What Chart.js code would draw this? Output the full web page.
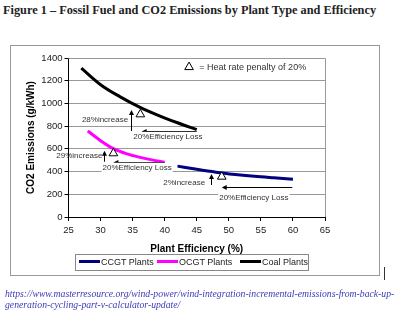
<!DOCTYPE html>
<html><head><meta charset="utf-8">
<script src="https://cdn.jsdelivr.net/npm/chart.js@4.4.1/dist/chart.umd.min.js"></script>
<style>
html,body{margin:0;padding:0;background:#fff;}
body{width:400px;height:321px;position:relative;overflow:hidden;}
#title{position:absolute;left:3px;top:3px;font:bold 12.3px "Liberation Serif",serif;color:#222;white-space:nowrap;}
#box{position:absolute;left:10px;top:45px;width:368px;height:229px;border:1px solid #999;}
#box canvas{position:absolute;left:0;top:0;}
#legend{position:absolute;left:75px;top:254px;width:232px;height:15px;border:1px solid #888;background:#fff;font:9px "Liberation Sans",Arial,sans-serif;color:#222;}
.li{position:absolute;top:0;height:15px;line-height:15px;white-space:nowrap;}
.li span.sw{display:inline-block;width:21px;height:3px;vertical-align:middle;margin-right:1px;position:relative;top:-1px;}
#url{position:absolute;left:5px;top:288px;font:italic 9.7px "Liberation Serif",serif;color:#3a3ab8;line-height:11px;white-space:nowrap;}
#stray{position:absolute;left:384px;top:267px;width:1px;height:13px;background:#333;}
</style></head>
<body>
<div id="title">Figure 1 – Fossil Fuel and CO2 Emissions by Plant Type and Efficiency</div>
<div id="box"><canvas id="c" width="368" height="229"></canvas></div>
<div id="legend"></div>
<div id="url">https://www.masterresource.org/wind-power/wind-integration-incremental-emissions-from-back-up-<br>generation-cycling-part-v-calculator-update/</div>
<div id="stray"></div>
<script>
// ---- data ----
const seriesNames = ['CCGT Plants', 'OCGT Plants', 'Coal Plants'];
const ccgtX = [42, 45, 48, 51, 54, 57, 60];
const ccgtY = [448, 420, 395, 375, 358, 345, 333];
const ocgtX = [28, 30, 32, 34, 36, 38, 40];
const ocgtY = [757, 672, 602, 558, 527, 503, 483];
const coalX = [27, 30, 33, 36, 39, 42, 45];
const coalY = [1310, 1165, 1060, 970, 895, 830, 770];
const triX = [43.8, 36.2, 32.0, 48.9];
const triY = [1320, 904, 561, 355];
const upArrowX = [34.8, 30.6, 47.2];
const upArrowFrom = [757, 487, 282];
const upArrowTo = [942, 584, 379];
const leftArrowY = [757, 481, 266];
const leftArrowFrom = [45, 40, 59.9];
const leftArrowTo = [36.4, 32, 48.9];
const increaseLabels = ['28%increase', '29%increase', '2%increase'];
const increaseX = [34.3, 30.3, 46.3];
const increaseY = [860, 537, 302];
const lossLabel = '20%Efficiency Loss';
const lossX = [40.5, 35.7, 53.9];
const lossY = [706, 434, 170];
const keyText = '= Heat rate penalty of 20%';
const keyX = 45.4, keyY = 1320;
const xTicks = [25, 30, 35, 40, 45, 50, 55, 60, 65];
const yTicks = [0, 200, 400, 600, 800, 1000, 1200, 1400];

const colors = ['#000080', '#ff00ff', '#000000'];
const pts = (xs, ys) => xs.map((x, i) => ({x, y: ys[i]}));
const SANS = '"Liberation Sans", Arial, sans-serif';

const annot = {
  id: 'annot',
  beforeDatasetsDraw(chart) {
    const {ctx, chartArea: a} = chart;
    ctx.save();
    ctx.strokeStyle = '#999'; ctx.lineWidth = 1;
    ctx.beginPath();
    ctx.moveTo(a.left, a.top + 0.5); ctx.lineTo(a.right + 0.5, a.top + 0.5); ctx.lineTo(a.right + 0.5, a.bottom);
    ctx.stroke();
    ctx.restore();
  },
  afterDatasetsDraw(chart) {
    const {ctx, scales: {x, y}} = chart;
    ctx.save();
    ctx.strokeStyle = '#000'; ctx.fillStyle = '#000'; ctx.lineWidth = 1;
    upArrowX.forEach((xv, i) => {
      const px = Math.round(x.getPixelForValue(xv)) + 0.5;
      const y0 = y.getPixelForValue(upArrowFrom[i]), y1 = y.getPixelForValue(upArrowTo[i]);
      ctx.beginPath(); ctx.moveTo(px, y0); ctx.lineTo(px, y1 + 3); ctx.stroke();
      ctx.beginPath(); ctx.moveTo(px, y1); ctx.lineTo(px - 2.5, y1 + 5); ctx.lineTo(px + 2.5, y1 + 5); ctx.closePath(); ctx.fill();
    });
    leftArrowY.forEach((yv, i) => {
      const py = Math.round(y.getPixelForValue(yv)) + 0.5;
      const x0 = x.getPixelForValue(leftArrowFrom[i]), x1 = x.getPixelForValue(leftArrowTo[i]);
      ctx.beginPath(); ctx.moveTo(x0, py); ctx.lineTo(x1 + 3, py); ctx.stroke();
      ctx.beginPath(); ctx.moveTo(x1, py); ctx.lineTo(x1 + 5, py - 2.5); ctx.lineTo(x1 + 5, py + 2.5); ctx.closePath(); ctx.fill();
    });
    ctx.font = '8px ' + SANS;
    ctx.textBaseline = 'middle';
    ctx.fillStyle = '#333';
    increaseLabels.forEach((t, i) => {
      ctx.textAlign = 'right';
      ctx.fillText(t, x.getPixelForValue(increaseX[i]), y.getPixelForValue(increaseY[i]));
    });
    lossX.forEach((xv, i) => {
      const px = x.getPixelForValue(xv), py = y.getPixelForValue(lossY[i]);
      const w = ctx.measureText(lossLabel).width;
      ctx.fillStyle = '#fff';
      ctx.fillRect(px - w / 2 - 1, py - 5, w + 2, 10);
      ctx.fillStyle = '#333';
      ctx.textAlign = 'center';
      ctx.fillText(lossLabel, px, py);
    });
    ctx.font = '9px ' + SANS;
    ctx.textAlign = 'left';
    ctx.fillText(keyText, x.getPixelForValue(keyX), y.getPixelForValue(keyY));
    ctx.restore();
  }
};

const chart = new Chart(document.getElementById('c'), {
  type: 'scatter',
  data: {
    datasets: [
      {label: seriesNames[0], data: pts(ccgtX, ccgtY), showLine: true, borderColor: colors[0], backgroundColor: colors[0], borderWidth: 3, pointRadius: 0, cubicInterpolationMode: 'monotone', order: 1},
      {label: seriesNames[1], data: pts(ocgtX, ocgtY), showLine: true, borderColor: colors[1], backgroundColor: colors[1], borderWidth: 3, pointRadius: 0, cubicInterpolationMode: 'monotone', order: 1},
      {label: seriesNames[2], data: pts(coalX, coalY), showLine: true, borderColor: colors[2], backgroundColor: colors[2], borderWidth: 3, pointRadius: 0, cubicInterpolationMode: 'monotone', order: 1},
      {label: 'penalty', data: pts(triX, triY), showLine: false, pointStyle: 'triangle', pointRadius: 5, backgroundColor: '#fff', borderColor: '#000', borderWidth: 1, order: 0}
    ]
  },
  options: {
    responsive: false, animation: false, events: [],
    layout: {padding: {left: 0, top: 12, right: 54, bottom: 18}},
    plugins: {legend: {display: false}, tooltip: {enabled: false}},
    scales: {
      x: {
        type: 'linear', min: 25, max: 65,
        afterBuildTicks: s => { s.ticks = xTicks.map(v => ({value: v})); },
        ticks: {font: {family: SANS, size: 9.5}, color: '#222', padding: 4, maxRotation: 0, callback: v => String(v)},
        grid: {drawOnChartArea: false, tickLength: 4, color: '#000', tickColor: '#000'},
        border: {color: '#000', width: 1},
        title: {display: true, text: 'Plant Efficiency (%)', font: {family: SANS, size: 10, weight: 'bold'}, color: '#000', padding: {top: 0, bottom: 2}},
        afterFit: s => { s.height = 40; }
      },
      y: {
        type: 'linear', min: 0, max: 1400,
        afterBuildTicks: s => { s.ticks = yTicks.map(v => ({value: v})); },
        ticks: {font: {family: SANS, size: 9.5}, color: '#222', padding: 2, callback: v => String(v)},
        grid: {color: '#999', tickLength: 4, tickColor: '#000'},
        border: {color: '#000', width: 1},
        title: {display: true, text: 'CO2 Emissions (g/kWh)', font: {family: SANS, size: 10, weight: 'bold'}, color: '#000', padding: {top: 14, bottom: 0}},
        afterFit: s => { s.width = 57.5; }
      }
    }
  },
  plugins: [annot]
});

const leg = document.getElementById('legend');
const legLeft = [3, 81, 164];
seriesNames.forEach((n, i) => {
  const d = document.createElement('div');
  d.className = 'li';
  d.style.left = legLeft[i] + 'px';
  d.innerHTML = '<span class="sw" style="background:' + colors[i] + '"></span>' + n;
  leg.appendChild(d);
});
</script>
</body></html>
